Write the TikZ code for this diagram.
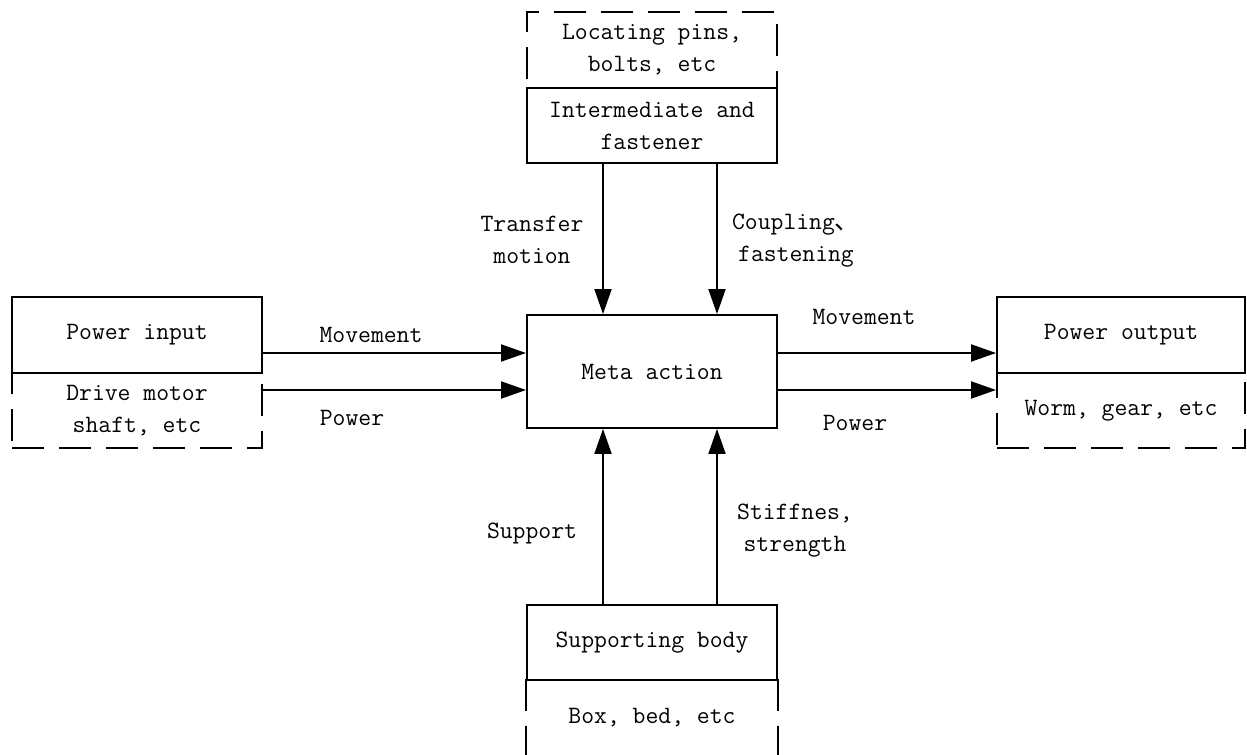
\documentclass[tikz,border=0pt]{standalone}
\usepackage{fontspec}
\setmonofont{Latin Modern Mono}
\newfontfamily\cjkfont{Noto Sans CJK SC}
\usepackage{tikz}
\usetikzlibrary{shapes,arrows.meta,positioning,calc}

\begin{document}
\begin{tikzpicture}[
    line width=1.1pt,
    box/.style={rectangle, draw, minimum width=5cm, minimum height=1.5cm, align=center, inner sep=0pt, font=\ttfamily\fontsize{14.2}{18.2}\selectfont},
    dashbox/.style={box, dash pattern=on 0.64cm off 0.3cm},
    lbl/.style={align=center, inner sep=0pt, font=\ttfamily\fontsize{14.2}{18.2}\selectfont},
    flow/.style={-{Triangle[length=5mm, width=3.4mm]}}
]
\useasboundingbox (0,0) rectangle (24.94,-15.1);

\node[box, minimum height=2.26cm] (meta) at (13.04,-7.43) {Meta action};

\node[dashbox, minimum height=1.52cm] (pins) at (13.04,-1.0) {Locating pins,\\bolts, etc};
\node[box] (interm) at (13.04,-2.51) {Intermediate and\\fastener};

\node[dashbox] (drive) at (2.74,-8.21) {Drive motor\\shaft, etc};
\node[box, minimum height=1.52cm] (pin) at (2.74,-6.7) {Power input};

\node[dashbox, minimum width=4.96cm] (worm) at (22.42,-8.21) {Worm, gear, etc};
\node[box, minimum width=4.96cm, minimum height=1.52cm] (pout) at (22.42,-6.7) {Power output};

\node[box] (supp) at (13.04,-12.85) {Supporting body};
\node[lbl, minimum width=5cm, minimum height=1.5cm] (bed) at (13.04,-14.35) {Box, bed, etc};
\draw[dash pattern=on 0.64cm off 0.3cm] (bed.north west) -- (bed.south west);
\draw[dash pattern=on 0.64cm off 0.3cm] (bed.north east) -- (bed.south east);

\draw[flow] ([xshift=-0.98cm]interm.south) -- ([xshift=-0.98cm]meta.north);
\draw[flow] ([xshift=1.3cm]interm.south) -- ([xshift=1.3cm]meta.north);
\draw[flow] ([xshift=-0.98cm]supp.north) -- ([xshift=-0.98cm]meta.south);
\draw[flow] ([xshift=1.3cm]supp.north) -- ([xshift=1.3cm]meta.south);

\draw[flow] ([yshift=0.37cm]meta.west -| pin.east) -- ([yshift=0.37cm]meta.west);
\draw[flow] ([yshift=-0.37cm]meta.west -| drive.east) -- ([yshift=-0.37cm]meta.west);
\draw[flow] ([yshift=0.37cm]meta.east) -- ([yshift=0.37cm]meta.east -| pout.west);
\draw[flow] ([yshift=-0.37cm]meta.east) -- ([yshift=-0.37cm]meta.east -| worm.west);

\node[lbl] (mvin) at (7.42,-6.7) {Movement};
\node[lbl] (pwin) at (7.04,-8.36) {Power};
\node[lbl] (mvout) at (17.28,-6.34) {Movement};
\node[lbl] (pwout) at (17.1,-8.46) {Power};
\node[lbl] (transfer) at (10.64,-4.8) {Transfer\\motion};
\node[lbl] (coupling) at (15.92,-4.82) {Coupling{\cjkfont 、}\\fastening};
\node[lbl] (support) at (10.64,-10.66) {Support};
\node[lbl] (stiff) at (15.9,-10.62) {Stiffnes,\\strength};
\end{tikzpicture}
\end{document}
